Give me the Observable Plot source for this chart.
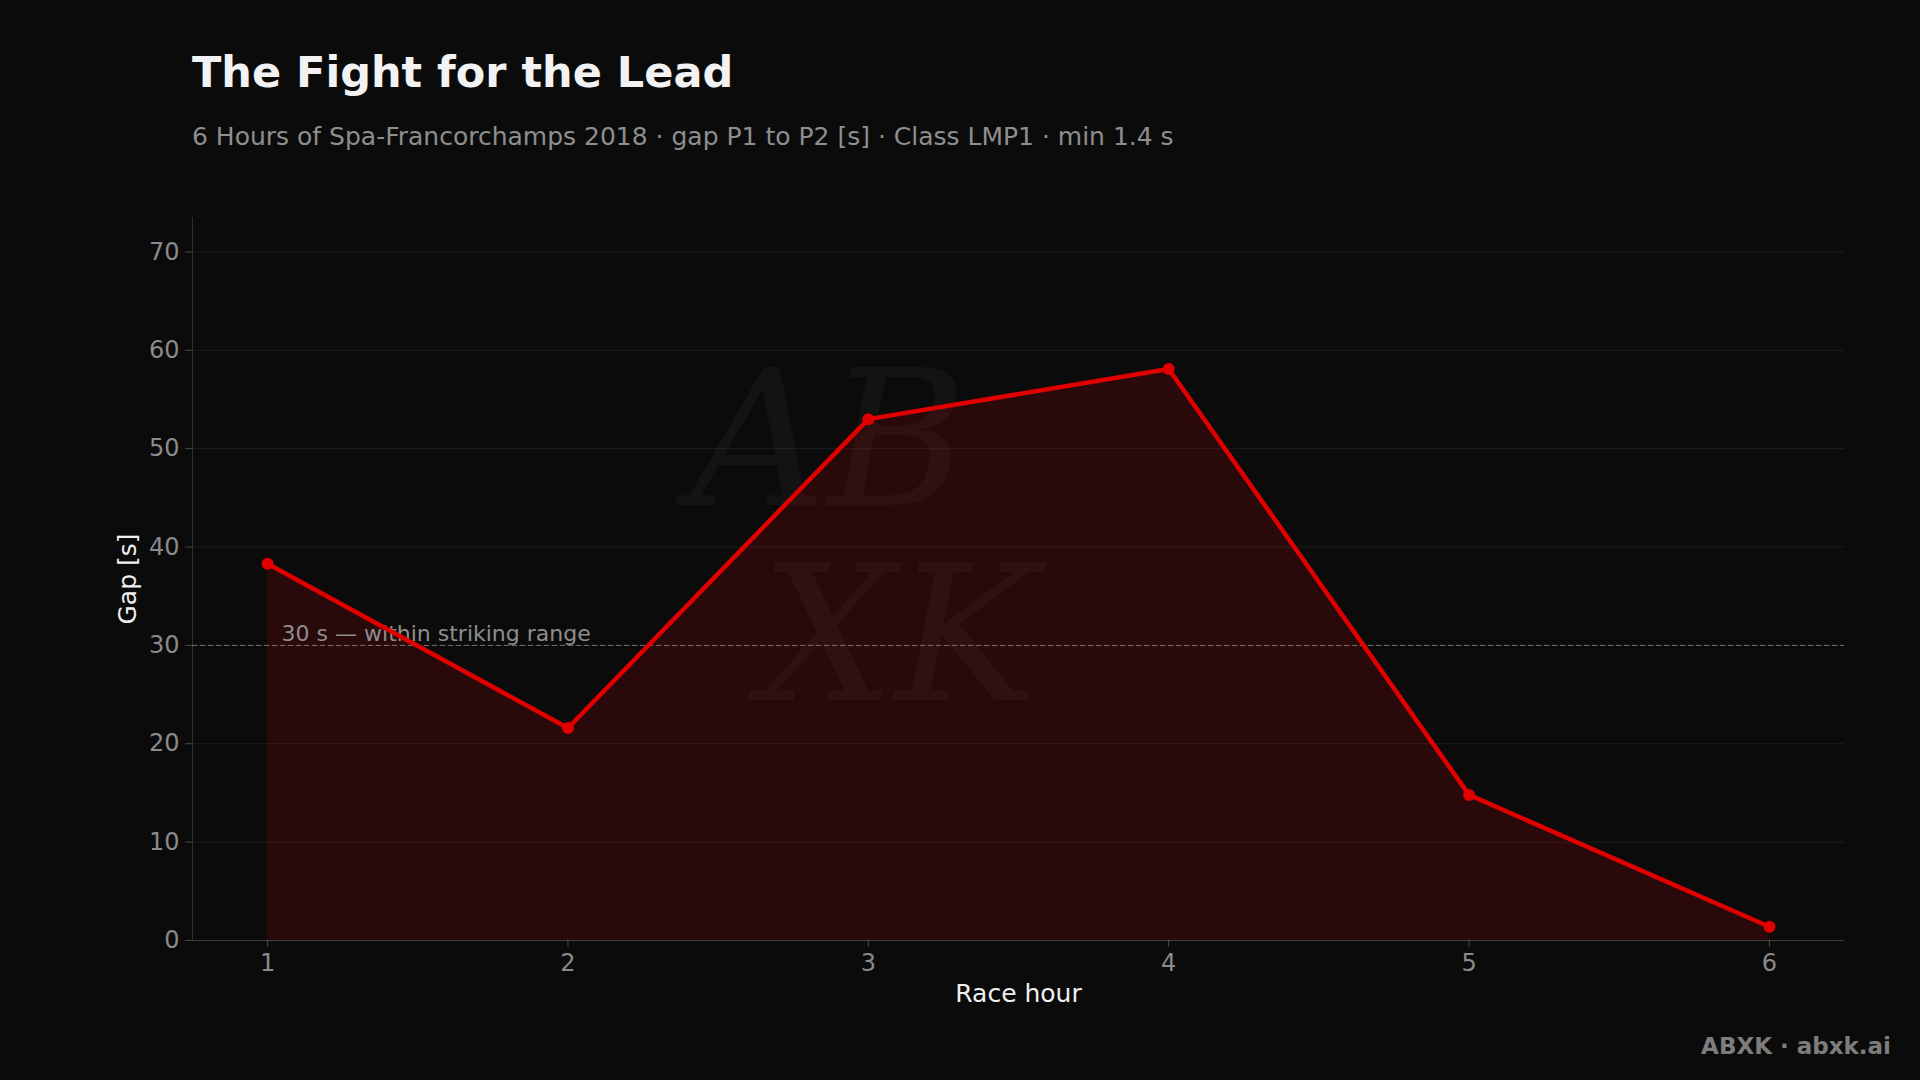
<!DOCTYPE html>
<html>
<head>
<meta charset="utf-8">
<script src="https://cdn.jsdelivr.net/npm/d3@7"></script>
<script src="https://cdn.jsdelivr.net/npm/@observablehq/plot@0.6"></script>
<style>
  html, body { margin:0; padding:0; background:#0b0b0b; width:1920px; height:1080px; overflow:hidden; font-family:"DejaVu Sans", sans-serif; }
  #wrap { position:relative; width:1920px; height:1080px; }
  #title { position:absolute; left:192px; top:47px; font-size:43px; font-weight:bold; color:#f2f2f2; white-space:nowrap; }
  #subtitle { position:absolute; left:192px; top:122px; font-size:25px; color:#8e8e8e; white-space:nowrap; }
  #footer { position:absolute; right:29px; top:1033px; font-size:23px; font-weight:bold; color:#7d7d7d; white-space:nowrap; }
  .wm { position:absolute; font-family:"DejaVu Serif", serif; font-style:italic; line-height:1; color:rgba(255,255,255,0.035); white-space:nowrap; }
  #wm1 { left:690px; top:345px; font-size:190px; }
  #wm2 { left:760px; top:540px; font-size:190px; }
  #chart { position:absolute; left:0; top:0; }
</style>
</head>
<body>
<div id="wrap">
  <div id="wm1" class="wm">AB</div>
  <div id="wm2" class="wm">XK</div>
  <div id="chart"></div>
  <div id="title">The Fight for the Lead</div>
  <div id="subtitle">6 Hours of Spa-Francorchamps 2018 · gap P1 to P2 [s] · Class LMP1 · min 1.4 s</div>
  <div id="footer">ABXK · abxk.ai</div>
</div>
<script>
const hours = [1, 2, 3, 4, 5, 6];
const gaps = [38.3, 21.6, 53.0, 58.1, 14.8, 1.4];
const yTicks = [0, 10, 20, 30, 40, 50, 60, 70];
const threshold = 30;
const thresholdLabel = "30 s — within striking range";
const xLabel = "Race hour";
const yLabel = "Gap [s]";

const data = hours.map((h, i) => ({hour: h, gap: gaps[i]}));

const chart = Plot.plot({
  width: 1920,
  height: 1080,
  marginTop: 217,
  marginBottom: 140,
  marginLeft: 192,
  marginRight: 76,
  style: {background: "transparent", color: "#8a8a8a", fontFamily: "DejaVu Sans", fontSize: "24px"},
  x: {domain: [0.75, 6.25]},
  y: {domain: [0, 73.5]},
  marks: [
    Plot.gridY(yTicks, {stroke: "#ffffff", strokeOpacity: 0.08, strokeWidth: 1}),
    Plot.areaY(data, {x: "hour", y: "gap", fill: "#e00000", fillOpacity: 0.14}),
    Plot.ruleY([threshold], {stroke: "#8a8a8a", strokeOpacity: 0.8, strokeDasharray: "5,3", strokeWidth: 1}),
    Plot.text([thresholdLabel], {x: 1, y: threshold, dx: 14, dy: -4, textAnchor: "start", lineAnchor: "bottom", fill: "#8e8e8e", fontSize: 22}),
    Plot.line(data, {x: "hour", y: "gap", stroke: "#e00000", strokeWidth: 4.5}),
    Plot.dot(data, {x: "hour", y: "gap", r: 6, fill: "#e00000"}),
    Plot.ruleX([0.75], {stroke: "#ffffff", strokeOpacity: 0.15}),
    Plot.ruleY([0], {stroke: "#ffffff", strokeOpacity: 0.15}),
    Plot.axisY(yTicks, {tickSize: 7, tickPadding: 6, stroke: "#ffffff", strokeOpacity: 0.25, fill: "#8a8a8a", fontSize: 24, label: null}),
    Plot.axisX(hours, {tickSize: 7, tickPadding: 6, stroke: "#ffffff", strokeOpacity: 0.25, fill: "#8a8a8a", fontSize: 24, label: null, tickFormat: d => String(d)}),
    Plot.text([xLabel], {frameAnchor: "bottom", dy: 61, fill: "#f0f0f0", fontSize: 25}),
    Plot.text([yLabel], {frameAnchor: "left", textAnchor: "middle", dx: -65, rotate: -90, fill: "#f0f0f0", fontSize: 25})
  ]
});
document.getElementById("chart").appendChild(chart);
</script>
</body>
</html>
